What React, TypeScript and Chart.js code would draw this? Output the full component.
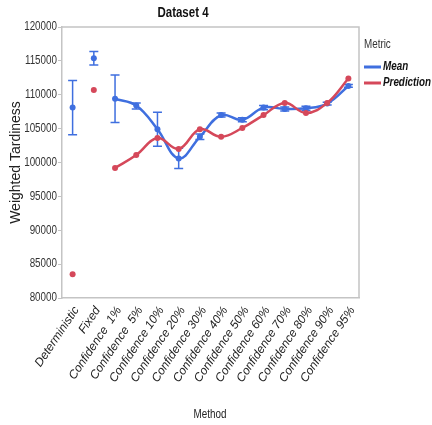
import React, { useEffect, useRef } from 'react';
import { Chart, registerables } from 'chart.js';

Chart.register(...registerables);

// Categories along the x axis
const methods = [
  'Deterministic',
  'Fixed',
  'Confidence  1%',
  'Confidence  5%',
  'Confidence 10%',
  'Confidence 20%',
  'Confidence 30%',
  'Confidence 40%',
  'Confidence 50%',
  'Confidence 60%',
  'Confidence 70%',
  'Confidence 80%',
  'Confidence 90%',
  'Confidence 95%',
];

// Mean weighted tardiness with its error-bar limits
const meanValues = [108100, 115400, 109400, 108400, 104900, 100600, 103800, 107000, 106300, 108100, 107900, 108000, 108700, 111300];
const meanLower = [104100, 114400, 105900, 107900, 102400, 99100, 103400, 106700, 106000, 107800, 107600, 107700, 108500, 111100];
const meanUpper = [112100, 116400, 112900, 108800, 107400, 102100, 104200, 107300, 106600, 108400, 108200, 108300, 108900, 111500];

// Predicted weighted tardiness
const predictionValues = [83500, 110700, 99200, 101100, 103600, 102000, 104900, 103800, 105100, 107000, 108800, 107300, 108800, 112400];

// Only the confidence-level methods are joined by a curve
const curveStart = 2;

const yMin = 80000;
const yMax = 120000;
const yStep = 5000;

const BLUE = '#3f6fdf';
const RED = '#d5485a';
const SANS = "'Liberation Sans', Arial, sans-serif";
const SQUEEZE = 0.82; // horizontal squeeze for the condensed labels

const curveOf = (vals: number[]) => vals.map((v, i) => (i < curveStart ? null : v));
const loneOf = (vals: number[]) => vals.map((v, i) => (i < curveStart ? v : null));

function condensedText(ctx: CanvasRenderingContext2D, text: string, x: number, y: number, font: string, color: string, align: CanvasTextAlign) {
  ctx.save();
  ctx.translate(x, y);
  ctx.scale(SQUEEZE, 1);
  ctx.font = font;
  ctx.fillStyle = color;
  ctx.textAlign = align;
  ctx.textBaseline = 'middle';
  ctx.fillText(text, 0, 0);
  ctx.restore();
}

const decorations = {
  id: 'decorations',
  beforeDatasetsDraw(chart: any) {
    const { ctx, scales } = chart;
    const x = scales.x;
    const y = scales.y;
    // error bars for the mean
    ctx.save();
    ctx.strokeStyle = BLUE;
    ctx.lineWidth = 1.5;
    const cap = 4.5;
    meanValues.forEach((_, i) => {
      const px = x.getPixelForValue(i);
      const top = y.getPixelForValue(meanUpper[i]);
      const bot = y.getPixelForValue(meanLower[i]);
      ctx.beginPath();
      ctx.moveTo(px, top);
      ctx.lineTo(px, bot);
      ctx.moveTo(px - cap, top);
      ctx.lineTo(px + cap, top);
      ctx.moveTo(px - cap, bot);
      ctx.lineTo(px + cap, bot);
      ctx.stroke();
    });
    ctx.restore();
  },
  afterDraw(chart: any) {
    const { ctx, chartArea, scales } = chart;
    ctx.save();
    // frame around the plot
    ctx.strokeStyle = '#c4c4c4';
    ctx.lineWidth = 1.5;
    ctx.beginPath();
    ctx.moveTo(chartArea.left, chartArea.top);
    ctx.lineTo(chartArea.right, chartArea.top);
    ctx.lineTo(chartArea.right, chartArea.bottom);
    ctx.stroke();
    ctx.restore();

    // y tick labels
    scales.y.ticks.forEach((t: any) => {
      const py = scales.y.getPixelForValue(t.value);
      condensedText(ctx, String(t.value), chartArea.left - 5, py, `12px ${SANS}`, '#333', 'right');
    });

    // chart title and x-axis title
    condensedText(ctx, 'Dataset 4', 183, 13, `bold 14px ${SANS}`, '#111', 'center');
    condensedText(ctx, 'Method', 210, 415, `12px ${SANS}`, '#222', 'center');

    // legend
    const lx = chartArea.right + 5;
    condensedText(ctx, 'Metric', lx, 45, `12px ${SANS}`, '#333', 'left');
    const items = [
      { label: 'Mean', color: BLUE, y: 67 },
      { label: 'Prediction', color: RED, y: 83 },
    ];
    items.forEach((it) => {
      ctx.save();
      ctx.strokeStyle = it.color;
      ctx.lineWidth = 3;
      ctx.beginPath();
      ctx.moveTo(lx, it.y);
      ctx.lineTo(lx + 17, it.y);
      ctx.stroke();
      ctx.restore();
      condensedText(ctx, it.label, lx + 19, it.y, `italic bold 12px ${SANS}`, '#111', 'left');
    });
  },
};

export default function App() {
  const canvasRef = useRef<HTMLCanvasElement | null>(null);

  useEffect(() => {
    document.body.style.margin = '0';
    const canvas = canvasRef.current;
    if (!canvas) return;

    const chart = new Chart(canvas, {
      type: 'line',
      data: {
        labels: methods,
        datasets: [
          {
            label: 'Prediction',
            data: curveOf(predictionValues),
            borderColor: RED,
            backgroundColor: RED,
            borderWidth: 2.5,
            tension: 0.4,
            pointRadius: 3,
            pointBorderWidth: 0,
            spanGaps: false,
            order: 0,
          },
          {
            label: 'Prediction',
            data: loneOf(predictionValues),
            borderColor: RED,
            backgroundColor: RED,
            showLine: false,
            pointRadius: 3,
            pointBorderWidth: 0,
            order: 0,
          },
          {
            label: 'Mean',
            data: curveOf(meanValues),
            borderColor: BLUE,
            backgroundColor: BLUE,
            borderWidth: 2.5,
            tension: 0.4,
            pointRadius: 3,
            pointBorderWidth: 0,
            spanGaps: false,
            order: 1,
          },
          {
            label: 'Mean',
            data: loneOf(meanValues),
            borderColor: BLUE,
            backgroundColor: BLUE,
            showLine: false,
            pointRadius: 3,
            pointBorderWidth: 0,
            order: 1,
          },
        ],
      },
      options: {
        responsive: false,
        animation: false,
        layout: { padding: { top: 27, right: 73, left: 0, bottom: 0 } },
        plugins: {
          legend: { display: false },
          title: { display: false },
          tooltip: { enabled: false },
        },
        scales: {
          x: {
            type: 'category',
            offset: true,
            grid: { display: false, drawTicks: false },
            border: { display: true, color: '#c4c4c4', width: 1.5 },
            ticks: {
              autoSkip: false,
              minRotation: 56,
              maxRotation: 56,
              padding: 6,
              labelOffset: 4,
              color: '#222',
              font: { family: SANS, size: 12, style: 'italic' },
            },
            afterFit(scale: any) {
              scale.height = 127;
              scale.paddingLeft = 0;
              scale.paddingRight = 0;
            },
          },
          y: {
            min: yMin,
            max: yMax,
            grid: { display: true, drawOnChartArea: false, drawTicks: true, tickLength: 4, color: '#c4c4c4' },
            border: { display: true, color: '#c4c4c4', width: 1.5 },
            ticks: {
              display: false,
              stepSize: yStep,
            },
            title: {
              display: true,
              text: 'Weighted Tardiness',
              color: '#222',
              font: { family: SANS, size: 14 },
              padding: { top: 8, bottom: 0 },
            },
            afterFit(scale: any) {
              scale.width = 62;
            },
          },
        },
      },
      plugins: [decorations],
    } as any);

    return () => chart.destroy();
  }, []);

  return (
    <div style={{ width: 432, height: 425 }}>
      <canvas ref={canvasRef} width={432} height={425} style={{ display: 'block' }} />
    </div>
  );
}
